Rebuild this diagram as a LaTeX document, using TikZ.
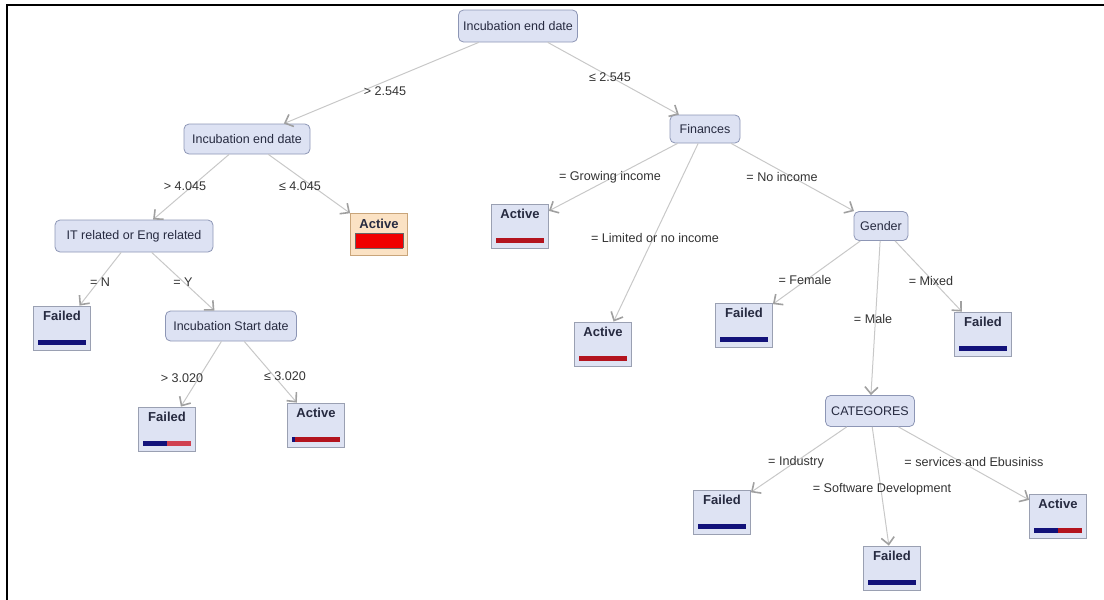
\documentclass[tikz,border=0pt]{standalone}
\usepackage{fontspec}
\setmainfont{Liberation Sans}
\usetikzlibrary{arrows.meta}
\definecolor{decfill}{HTML}{DDE2F3}
\definecolor{decdraw}{HTML}{8D96B5}
\definecolor{leaffill}{HTML}{DEE3F3}
\definecolor{leafdraw}{HTML}{9AA0B2}
\definecolor{hifill}{HTML}{FBE2C4}
\definecolor{hidraw}{HTML}{C9A57A}
\definecolor{navyb}{HTML}{12127A}
\definecolor{redb}{HTML}{B3141E}
\definecolor{pinkb}{HTML}{D04050}
\definecolor{hired}{HTML}{F00000}
\definecolor{txt}{HTML}{262A40}
\definecolor{lbl}{HTML}{333333}
\definecolor{edgec}{HTML}{C8C8C8}
\definecolor{tipc}{HTML}{A0A0A0}
\newcommand\navybar{{\color{navyb}\rule{48pt}{5pt}}}
\newcommand\redbar{{\color{redb}\rule{48pt}{5pt}}}
\newcommand\bicolbar[3]{{\color{navyb}\rule{#1}{5pt}}{\color{#3}\rule{#2}{5pt}}}
\begin{document}
\begin{tikzpicture}[x=1pt,y=-1pt,
  dec/.style={draw=decdraw,fill=decfill,rounded corners=5pt,line width=0.8pt,
    inner xsep=3pt,minimum height=30pt,text=txt,font=\fontsize{12.5}{14}\selectfont},
  leaf/.style={draw=leafdraw,fill=leaffill,line width=0.8pt,minimum width=57pt,
    minimum height=44pt,inner ysep=4pt,align=center,text=txt,
    font=\fontsize{13}{15}\selectfont\bfseries},
  hileaf/.style={leaf,draw=hidraw,fill=hifill,minimum height=42pt},
  lab/.style={text=lbl,font=\fontsize{12.6}{14}\selectfont,inner sep=1pt},
  edge/.style={draw=edgec,line width=1pt,
    -{Straight Barb[length=7pt,width=13pt,line width=1.6pt,color=tipc]}}
]
\useasboundingbox (0,0) rectangle (1104,600);
\draw[line width=2pt] (7,600) -- (7,5) -- (1104,5);

% decision nodes
\node[dec,minimum width=119pt,minimum height=32pt] (root) at (518,26) {Incubation end date};
\node[dec,minimum width=126pt] (ied) at (247,139) {Incubation end date};
\node[dec,minimum width=70pt,minimum height=28pt] (fin) at (705,129) {Finances};
\node[dec,minimum width=158pt,minimum height=32pt] (it) at (134,236) {IT related or Eng related};
\node[dec,minimum width=131pt] (isd) at (231,326) {Incubation Start date};
\node[dec,minimum width=54pt,minimum height=29pt] (gen) at (881,226) {Gender};
\node[dec,minimum width=89pt,minimum height=31pt] (cat) at (870,411) {CATEGORES};

% leaves
\node[hileaf] (a1) at (379,234) {Active\\[3pt]{\setlength\fboxsep{0pt}\fcolorbox{black!60}{hired}{\rule{0pt}{15pt}\rule{47pt}{0pt}}}};
\node[leaf] (f1) at (62,328) {Failed\\[9pt]\navybar};
\node[leaf] (f2) at (167,429) {Failed\\[9pt]\bicolbar{24pt}{24pt}{pinkb}};
\node[leaf] (a2) at (316,425) {Active\\[9pt]\bicolbar{3pt}{45pt}{redb}};
\node[leaf] (a3) at (520,226) {Active\\[9pt]\redbar};
\node[leaf] (a4) at (603,344) {Active\\[9pt]\redbar};
\node[leaf] (f3) at (744,325) {Failed\\[9pt]\navybar};
\node[leaf] (f4) at (983,334) {Failed\\[9pt]\navybar};
\node[leaf] (f5) at (722,512) {Failed\\[9pt]\navybar};
\node[leaf] (f6) at (892,568) {Failed\\[9pt]\navybar};
\node[leaf] (a5) at (1058,516) {Active\\[9pt]\bicolbar{24pt}{24pt}{redb}};

% edges
\draw[edge] (root) -- (ied);
\draw[edge] (root) -- (fin);
\draw[edge] (ied) -- (it);
\draw[edge] (ied) -- (a1);
\draw[edge] (it) -- (f1);
\draw[edge] (it) -- (isd);
\draw[edge] (isd) -- (f2);
\draw[edge] (isd) -- (a2);
\draw[edge] (fin) -- (a3);
\draw[edge] (fin) -- (a4);
\draw[edge] (fin) -- (gen);
\draw[edge] (gen) -- (f3);
\draw[edge] (gen) -- (f4);
\draw[edge] (gen) -- (cat);
\draw[edge] (cat) -- (f5);
\draw[edge] (cat) -- (f6);
\draw[edge] (cat) -- (a5);

% labels
\node[lab] (l1) at (385,91) {> 2.545};
\node[lab] (l2) at (610,77) {≤ 2.545};
\node[lab] (l3) at (185,186) {> 4.045};
\node[lab] (l4) at (300,186) {≤ 4.045};
\node[lab] (l5) at (100,282) {= N};
\node[lab] (l6) at (183,282) {= Y};
\node[lab] (l7) at (182,378) {> 3.020};
\node[lab] (l8) at (285,376) {≤ 3.020};
\node[lab] (l9) at (610,177) {= Growing income};
\node[lab] (l10) at (655,238) {= Limited or no income};
\node[lab] (l11) at (782,177) {= No income};
\node[lab] (l12) at (805,280) {= Female};
\node[lab] (l13) at (931,281) {= Mixed};
\node[lab] (l14) at (873,319) {= Male};
\node[lab] (l15) at (796,462) {= Industry};
\node[lab] (l16) at (882,489) {= Software Development};
\node[lab] (l17) at (974,462) {= services and Ebusiniss};
\end{tikzpicture}
\end{document}
